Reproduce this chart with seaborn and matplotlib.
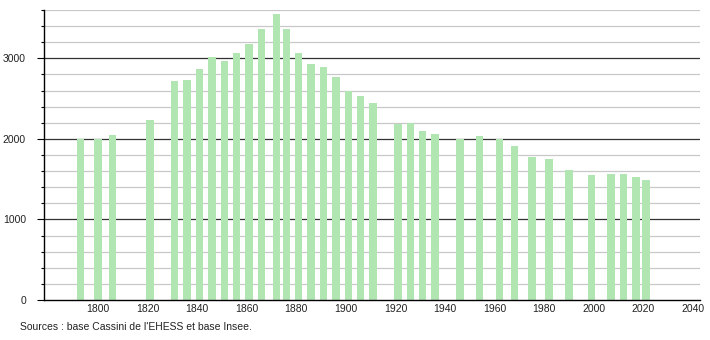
import matplotlib
matplotlib.use("Agg")
import matplotlib.pyplot as plt
import seaborn as sns
import pandas as pd
from matplotlib.ticker import MultipleLocator

years = [1793, 1800, 1806, 1821, 1831, 1836, 1841, 1846, 1851, 1856, 1861, 1866,
         1872, 1876, 1881, 1886, 1891, 1896, 1901, 1906, 1911, 1921, 1926, 1931,
         1936, 1946, 1954, 1962, 1968, 1975, 1982, 1990, 1999, 2007, 2012, 2017, 2021]
population = [2000, 2000, 2054, 2240, 2714, 2726, 2871, 3012, 2963, 3071, 3174, 3361,
              3548, 3361, 3071, 2925, 2896, 2772, 2598, 2527, 2448, 2179, 2192, 2096,
              2055, 2001, 2042, 2001, 1909, 1777, 1752, 1619, 1557, 1569, 1569, 1528, 1494]
xticks = list(range(1800, 2041, 20))
yticks = [0, 1000, 2000, 3000]
source_text = "Sources : base Cassini de l'EHESS et base Insee."

sns.set_style("white")
plt.rcParams['font.family'] = ['Liberation Sans', 'DejaVu Sans']

df = pd.DataFrame({"year": years, "pop": population})

fig = plt.figure(figsize=(7.1, 3.4), dpi=100)
ax = fig.add_axes([44/710, 40/340, (700-44)/710, 290/340])

# gridlines
for v in range(200, 3601, 200):
    if v % 1000 == 0:
        ax.axhline(v, color="#333333", lw=0.9, zorder=1)
    else:
        ax.axhline(v, color="#c8c8c8", lw=0.9, zorder=1)

sns.barplot(data=df, x="year", y="pop", native_scale=True, width=0.75,
            color="#b1e5b1", saturation=1, errorbar=None, ax=ax, zorder=2,
            linewidth=0, edgecolor="none")

ax.set_xlim(1778.3, 2042.8)
ax.set_ylim(0, 3600)
ax.set_xticks(xticks)
ax.set_xticklabels([str(t) for t in xticks])
ax.set_yticks(yticks)
ax.set_yticklabels([str(t) for t in yticks])
ax.yaxis.set_minor_locator(MultipleLocator(200))
ax.tick_params(axis="y", which="major", length=5, width=0.8, color="black",
               labelsize=7.5, pad=8, left=True, labelcolor="#222222")
ax.tick_params(axis="y", which="minor", length=2.5, width=0.8, color="black", left=True)
ax.tick_params(axis="x", length=0, labelsize=7.5, pad=3, labelcolor="#222222")
ax.set_xlabel("")
ax.set_ylabel("")
for s in ["top", "right"]:
    ax.spines[s].set_visible(False)
for s in ["left", "bottom"]:
    ax.spines[s].set_color("black")
    ax.spines[s].set_linewidth(1.0)
    ax.spines[s].set_zorder(3)

fig.text(20/710, 1 - 327/340, source_text, fontsize=7.5, va="center", ha="left",
         color="#222222")

fig.savefig("out.png", dpi=100)
